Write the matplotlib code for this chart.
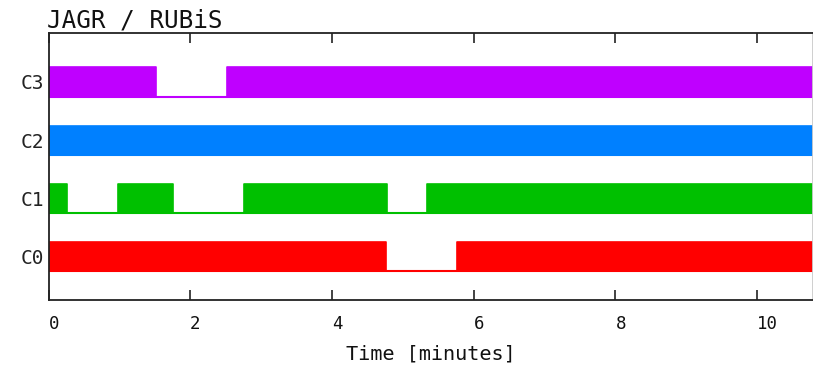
import matplotlib
matplotlib.use("Agg")
import matplotlib.pyplot as plt
import numpy as np

plt.rcParams['font.family'] = ['DejaVu Sans Mono']

title = "JAGR / RUBiS"
xlabel = "Time [minutes]"
channels = ["C0", "C1", "C2", "C3"]
colors = ["#FF0000", "#00C000", "#0080FF", "#BF00FF"]
end_time = 10.78
# transition times (minutes) and on/off states per channel
c0_times = [0, 4.76, 5.77]
c0_states = [1, 0, 1]
c1_times = [0, 0.26, 0.98, 1.75, 2.76, 4.78, 5.34]
c1_states = [1, 0, 1, 0, 1, 0, 1]
c2_times = [0]
c2_states = [1]
c3_times = [0, 1.52, 2.52]
c3_states = [1, 0, 1]
xticks = [0, 2, 4, 6, 8, 10]

series = [(c0_times, c0_states), (c1_times, c1_states),
          (c2_times, c2_states), (c3_times, c3_states)]

W, H = 813, 366
fig = plt.figure(figsize=(W / 100, H / 100), dpi=100)
ax = fig.add_axes([48.5 / W, 1 - 300 / H, (812.5 - 48.5) / W, (300 - 33) / H])

half = 0.25
for i, ((t, s), c) in enumerate(zip(series, colors)):
    x = np.array(list(t) + [end_time], dtype=float)
    y = np.array(list(s) + [s[-1]], dtype=float)
    base = i - half
    top = base + 2 * half * y
    ax.fill_between(x, base, top, step='post', color=c, lw=0)
    ax.step(x, top, where='post', color=c, lw=1.2)
    ax.plot([0, end_time], [base, base], color=c, lw=1.5)

ax.set_xlim(0, end_time)
ax.set_ylim(-0.752, 3.843)
ax.set_yticks(range(len(channels)))
ax.set_yticklabels(channels, fontsize=14)
ax.tick_params(axis='y', length=0, pad=3, colors='#222222')
ax.set_xticks(xticks)
ax.set_xticklabels([str(v) for v in xticks], fontsize=12.5, ha='left')
ax.tick_params(axis='x', direction='in', length=7.5, top=True, pad=11,
               width=1.2, color='#222222', labelcolor='#111111')
for sp in ax.spines.values():
    sp.set_linewidth(1.3)
    sp.set_color('#222222')
ax.spines['right'].set_color('#cccccc')
ax.set_xlabel(xlabel, fontsize=14.5, labelpad=8, color='#111111')
fig.text(47 / W, 1 - 27.5 / H, title, fontsize=17.5, va='baseline', ha='left', color='#111111')

fig.savefig("out.png", dpi=100)
